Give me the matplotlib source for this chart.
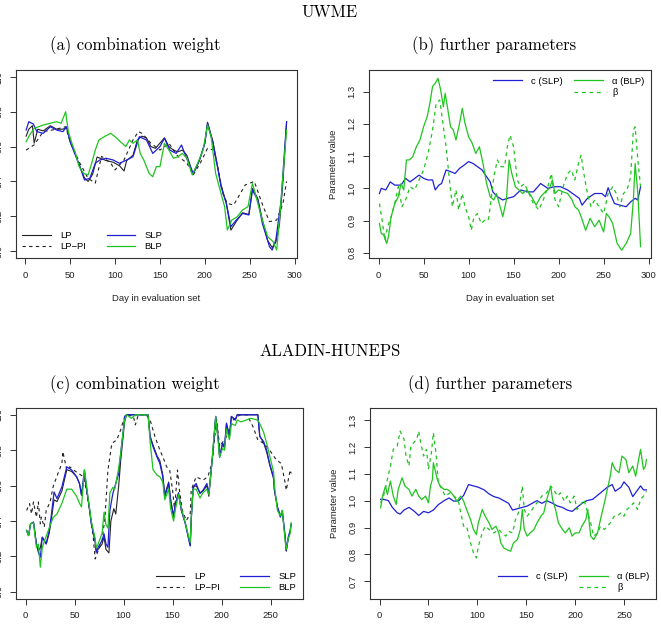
import matplotlib
matplotlib.use("Agg")
import matplotlib.pyplot as plt
from matplotlib.lines import Line2D

# ---------------- UWME, (a) combination weight ----------------
a_lp_day = [1, 4, 8, 10, 14, 20, 28, 35, 42, 46, 50, 55, 61, 66, 70, 75, 80, 85, 90, 98,
            105, 110, 113, 120, 125, 130, 135, 140, 145, 150, 155, 160, 165, 170, 175, 180,
            187, 194, 200, 203, 209, 214, 218, 224, 229, 235, 242, 249, 253, 259, 264, 270,
            275, 279, 283, 287, 291]
a_lp = [0.66, 0.70, 0.72, 0.62, 0.70, 0.69, 0.72, 0.70, 0.70, 0.71, 0.63, 0.57, 0.48, 0.42,
        0.40, 0.44, 0.54, 0.53, 0.52, 0.51, 0.49, 0.46, 0.52, 0.55, 0.64, 0.66, 0.65, 0.60,
        0.59, 0.62, 0.65, 0.60, 0.58, 0.57, 0.58, 0.55, 0.44, 0.52, 0.62, 0.74, 0.63, 0.49,
        0.38, 0.27, 0.12, 0.17, 0.22, 0.21, 0.36, 0.30, 0.18, 0.06, 0.02, 0.05, 0.15, 0.40, 0.74]

a_lppi_day = [1, 10, 20, 30, 45, 50, 60, 70, 78, 85, 95, 100, 110, 120, 126, 130, 140, 150,
              160, 170, 180, 187, 195, 203, 210, 215, 220, 225, 232, 245, 255, 265, 272, 280,
              287, 291]
a_lppi = [0.58, 0.61, 0.686, 0.695, 0.714, 0.628, 0.513, 0.418, 0.39, 0.544, 0.506, 0.466,
          0.523, 0.638, 0.686, 0.676, 0.619, 0.58, 0.619, 0.544, 0.506, 0.437, 0.506, 0.59,
          0.58, 0.465, 0.331, 0.274, 0.264, 0.38, 0.40, 0.255, 0.169, 0.178, 0.274, 0.40]

a_slp_day = [1, 4, 9, 13, 20, 28, 35, 42, 46, 50, 55, 61, 66, 72, 78, 83, 90, 98, 105, 113,
             120, 127, 135, 142, 150, 155, 161, 168, 174, 179, 187, 194, 200, 203, 209, 214,
             218, 224, 229, 235, 242, 249, 253, 259, 264, 272, 275, 279, 285, 288, 291]
a_slp = [0.695, 0.743, 0.73, 0.686, 0.676, 0.714, 0.695, 0.686, 0.714, 0.628, 0.561, 0.485,
         0.408, 0.418, 0.504, 0.523, 0.533, 0.523, 0.504, 0.523, 0.542, 0.657, 0.638, 0.561,
         0.60, 0.648, 0.58, 0.561, 0.609, 0.542, 0.446, 0.523, 0.619, 0.734, 0.619, 0.485,
         0.37, 0.274, 0.14, 0.178, 0.216, 0.207, 0.35, 0.293, 0.159, 0.025, 0.006, 0.063,
         0.293, 0.523, 0.743]

a_blp_day = [1, 5, 10, 15, 20, 28, 35, 40, 45, 48, 52, 56, 60, 65, 70, 74, 78, 82, 88, 95,
             100, 106, 112, 116, 120, 125, 128, 132, 138, 142, 146, 150, 155, 160, 165, 170,
             175, 180, 186, 192, 198, 203, 207, 212, 218, 222, 225, 230, 236, 242, 248, 253,
             258, 264, 270, 276, 280, 284, 288, 291]
a_blp = [0.628, 0.667, 0.705, 0.714, 0.724, 0.734, 0.743, 0.734, 0.80, 0.686, 0.619, 0.561,
         0.485, 0.446, 0.437, 0.504, 0.58, 0.638, 0.657, 0.676, 0.657, 0.628, 0.60, 0.638,
         0.619, 0.638, 0.561, 0.523, 0.446, 0.427, 0.485, 0.485, 0.619, 0.58, 0.533, 0.542,
         0.561, 0.533, 0.437, 0.504, 0.58, 0.724, 0.657, 0.446, 0.331, 0.255, 0.121, 0.178,
         0.197, 0.236, 0.255, 0.389, 0.293, 0.178, 0.082, 0.054, 0.006, 0.236, 0.504, 0.695]

# ---------------- UWME, (b) further parameters ----------------
b_c_day = [1, 3, 8, 13, 18, 25, 30, 35, 45, 50, 55, 60, 63, 67, 70, 75, 80, 85, 90, 95, 100,
           105, 110, 115, 120, 124, 127, 132, 138, 143, 150, 158, 165, 172, 180, 188, 195,
           202, 210, 218, 223, 226, 232, 240, 248, 252, 255, 258, 262, 268, 275, 280, 285,
           288, 291]
b_c = [0.984, 1.0, 0.995, 1.02, 1.01, 1.01, 1.031, 1.02, 1.041, 1.031, 1.026, 1.026, 0.995,
       1.01, 1.015, 1.057, 1.052, 1.046, 1.062, 1.072, 1.083, 1.077, 1.067, 1.057, 1.036,
       1.02, 0.989, 0.974, 0.964, 0.969, 0.974, 0.995, 0.989, 0.989, 1.015, 1.0, 1.005,
       1.005, 0.995, 0.979, 0.969, 0.948, 0.969, 0.984, 0.984, 0.974, 1.002, 0.979, 0.953,
       0.948, 0.943, 0.958, 0.969, 0.964, 1.005]

b_alpha_day = [1, 3, 6, 9, 11, 14, 18, 22, 25, 28, 31, 34, 38, 42, 46, 50, 54, 57, 60, 63,
               66, 69, 72, 74, 77, 80, 83, 86, 90, 93, 96, 100, 104, 108, 112, 116, 120, 124,
               128, 131, 134, 138, 142, 145, 148, 152, 156, 160, 165, 170, 175, 180, 185, 190,
               193, 196, 200, 205, 210, 215, 218, 222, 225, 230, 235, 240, 245, 250, 253, 256,
               260, 265, 270, 275, 280, 283, 285, 288, 291]
b_alpha = [0.891, 0.860, 0.855, 0.829, 0.850, 0.912, 0.953, 0.974, 1.015, 0.995, 1.088, 1.088,
           1.098, 1.129, 1.150, 1.191, 1.222, 1.264, 1.316, 1.326, 1.341, 1.305, 1.253, 1.295,
           1.243, 1.191, 1.181, 1.150, 1.202, 1.248, 1.202, 1.160, 1.140, 1.108, 1.129, 1.077,
           1.015, 0.974, 0.964, 0.984, 0.953, 0.912, 0.964, 1.088, 1.046, 1.005, 0.995, 0.984,
           0.995, 0.974, 0.948, 0.974, 0.989, 1.000, 1.026, 0.984, 0.995, 0.989, 0.984, 0.964,
           0.943, 0.933, 0.912, 0.870, 0.907, 0.881, 0.901, 0.865, 0.922, 0.912, 0.891, 0.829,
           0.808, 0.829, 0.860, 0.964, 1.077, 0.984, 0.819]

b_beta_day = [1, 4, 7, 10, 14, 18, 22, 26, 30, 35, 40, 45, 50, 55, 60, 64, 68, 71, 75, 78,
              82, 86, 89, 93, 96, 100, 103, 106, 110, 114, 118, 122, 125, 128, 132, 136, 140,
              143, 146, 150, 154, 158, 162, 167, 172, 178, 183, 188, 192, 196, 200, 205, 210,
              214, 218, 222, 225, 228, 232, 236, 240, 245, 250, 255, 260, 264, 268, 272, 276,
              280, 283, 285, 288, 291]
b_beta = [0.953, 0.901, 0.839, 0.881, 0.912, 0.953, 1.005, 0.943, 0.964, 1.005, 0.995, 1.026,
          1.057, 1.108, 1.181, 1.264, 1.274, 1.212, 1.129, 1.046, 0.943, 0.995, 0.933, 0.984,
          0.943, 0.912, 0.870, 0.912, 0.922, 0.891, 0.901, 0.901, 0.964, 1.036, 1.088, 1.067,
          1.067, 1.129, 1.165, 1.129, 1.026, 1.005, 1.015, 0.984, 0.953, 0.933, 0.964, 1.005,
          1.046, 0.964, 0.943, 1.005, 1.046, 1.057, 1.026, 1.077, 1.103, 1.046, 0.984, 0.943,
          0.964, 0.943, 0.922, 0.984, 1.005, 0.984, 0.943, 0.984, 0.995, 1.036, 1.181, 1.191,
          1.088, 1.005]

# ---------------- ALADIN-HUNEPS, (c) combination weight ----------------
c_lp_day = [1, 3, 5, 8, 11, 13, 15, 17, 19, 21, 24, 26, 29, 32, 37, 42, 47, 52, 55, 57, 60,
            63, 65, 67, 71, 72, 74, 78, 80, 82, 85, 87, 90, 92, 95, 97, 99, 101, 103, 125,
            127, 130, 134, 137, 140, 142, 146, 148, 151, 153, 156, 159, 163, 166, 168, 169,
            171, 174, 178, 181, 185, 187, 190, 191, 194, 197, 198, 201, 203, 205, 208, 210,
            214, 216, 237, 239, 243, 246, 249, 253, 254, 257, 260, 262, 265, 266, 268, 270, 271]
c_lp = [0.347, 0.318, 0.384, 0.394, 0.271, 0.233, 0.25, 0.309, 0.29, 0.271, 0.33, 0.40, 0.52,
        0.51, 0.57, 0.69, 0.68, 0.65, 0.61, 0.55, 0.66, 0.55, 0.47, 0.39, 0.28, 0.23, 0.24,
        0.27, 0.31, 0.24, 0.22, 0.40, 0.47, 0.44, 0.60, 0.74, 0.85, 0.96, 1.0, 1.0, 0.88,
        0.83, 0.77, 0.74, 0.66, 0.55, 0.62, 0.52, 0.43, 0.50, 0.56, 0.46, 0.39, 0.31, 0.26,
        0.41, 0.59, 0.60, 0.56, 0.57, 0.60, 0.54, 0.72, 0.78, 0.99, 0.84, 0.76, 0.84, 0.81,
        0.95, 0.88, 0.99, 0.97, 1.0, 1.0, 0.88, 0.84, 0.79, 0.72, 0.64, 0.57, 0.48, 0.43,
        0.45, 0.30, 0.23, 0.30, 0.34, 0.38]

c_lppi_day = [1, 4, 6, 8, 11, 13, 15, 16, 19, 21, 25, 28, 33, 37, 38, 42, 45, 49, 54, 59, 62,
              66, 69, 71, 74, 78, 81, 84, 88, 93, 97, 100, 103, 110, 112, 115, 123, 127, 132,
              137, 140, 144, 147, 150, 152, 155, 157, 160, 164, 168, 169, 174, 181, 186, 190,
              195, 198, 205, 212, 219, 226, 232, 237, 243, 249, 256, 261, 265, 266, 270, 271]
c_lppi = [0.46, 0.498, 0.441, 0.508, 0.422, 0.508, 0.384, 0.422, 0.366, 0.46, 0.508, 0.593,
          0.669, 0.725, 0.792, 0.688, 0.706, 0.688, 0.669, 0.65, 0.574, 0.441, 0.309, 0.186,
          0.233, 0.29, 0.422, 0.688, 0.839, 0.858, 0.915, 0.972, 1.0, 0.991, 0.943, 1.0, 1.0,
          0.972, 0.877, 0.801, 0.763, 0.706, 0.688, 0.574, 0.46, 0.688, 0.574, 0.46, 0.403,
          0.441, 0.574, 0.65, 0.631, 0.65, 0.725, 0.972, 0.82, 0.877, 0.972, 1.0, 1.0, 0.934,
          0.858, 0.839, 0.801, 0.744, 0.725, 0.612, 0.574, 0.688, 0.669]

c_slp_day = [1, 3, 5, 8, 11, 13, 15, 17, 19, 21, 24, 26, 29, 32, 37, 42, 47, 52, 55, 57, 60,
             63, 65, 67, 71, 72, 74, 78, 80, 82, 84, 86, 89, 91, 95, 97, 99, 101, 103, 125,
             127, 130, 134, 137, 140, 142, 146, 148, 151, 153, 156, 159, 163, 166, 168, 169,
             171, 174, 178, 181, 185, 187, 190, 191, 194, 197, 198, 201, 203, 205, 208, 210,
             214, 216, 237, 239, 243, 246, 249, 253, 254, 257, 260, 262, 265, 266, 268, 270, 271]
c_slp = [0.347, 0.318, 0.384, 0.394, 0.271, 0.223, 0.195, 0.309, 0.29, 0.271, 0.347, 0.422,
         0.564, 0.527, 0.593, 0.706, 0.688, 0.65, 0.612, 0.545, 0.688, 0.555, 0.479, 0.384,
         0.29, 0.223, 0.252, 0.29, 0.328, 0.271, 0.252, 0.46, 0.555, 0.593, 0.669, 0.782,
         0.877, 0.991, 1.0, 1.0, 0.877, 0.82, 0.763, 0.725, 0.65, 0.536, 0.612, 0.517, 0.422,
         0.498, 0.555, 0.46, 0.384, 0.309, 0.261, 0.403, 0.593, 0.612, 0.555, 0.574, 0.612,
         0.555, 0.725, 0.782, 0.991, 0.839, 0.763, 0.839, 0.82, 0.953, 0.877, 0.991, 0.972,
         1.0, 1.0, 0.877, 0.848, 0.801, 0.725, 0.65, 0.574, 0.479, 0.422, 0.46, 0.309, 0.233,
         0.309, 0.347, 0.384]

c_blp_day = [1, 3, 5, 8, 11, 13, 15, 17, 20, 24, 28, 32, 37, 42, 47, 52, 55, 57, 60, 63, 65,
             67, 71, 72, 74, 78, 80, 82, 84, 86, 89, 91, 95, 97, 99, 101, 103, 108, 112, 125,
             127, 130, 134, 137, 140, 142, 146, 148, 151, 153, 156, 159, 163, 166, 168, 169,
             171, 174, 178, 181, 185, 187, 190, 191, 194, 197, 198, 201, 203, 205, 208, 210,
             214, 216, 220, 225, 230, 237, 239, 243, 246, 249, 253, 254, 257, 260, 262, 265,
             266, 268, 270, 271]
c_blp = [0.347, 0.318, 0.384, 0.39, 0.25, 0.27, 0.14, 0.25, 0.30, 0.36, 0.42, 0.44, 0.50,
         0.58, 0.58, 0.54, 0.50, 0.48, 0.69, 0.56, 0.48, 0.40, 0.30, 0.25, 0.27, 0.33, 0.45,
         0.38, 0.36, 0.56, 0.59, 0.58, 0.70, 0.78, 0.88, 0.97, 1.0, 0.98, 1.0, 1.0, 0.85,
         0.69, 0.66, 0.65, 0.62, 0.52, 0.58, 0.47, 0.40, 0.47, 0.55, 0.47, 0.39, 0.32, 0.28,
         0.42, 0.58, 0.58, 0.53, 0.56, 0.58, 0.55, 0.72, 0.80, 0.99, 0.82, 0.76, 0.81, 0.80,
         0.92, 0.86, 0.95, 0.94, 0.97, 0.96, 0.97, 0.98, 0.97, 0.95, 0.90, 0.84, 0.77, 0.68,
         0.60, 0.46, 0.43, 0.46, 0.28, 0.24, 0.30, 0.33, 0.39]

# ---------------- ALADIN-HUNEPS, (d) further parameters ----------------
d_c_day = [1, 4, 9, 13, 18, 21, 25, 30, 35, 40, 45, 50, 55, 60, 66, 71, 76, 81, 86, 91, 96,
           101, 107, 112, 117, 122, 127, 132, 136, 141, 146, 151, 156, 161, 166, 171, 177,
           182, 187, 192, 197, 202, 207, 212, 218, 223, 228, 233, 238, 241, 247, 250, 255,
           259, 262, 267, 270, 273]
d_c = [1.005, 1.005, 1.0, 0.975, 0.955, 0.95, 0.965, 0.975, 0.962, 0.945, 0.96, 0.955, 0.965,
       0.985, 1.0, 1.01, 0.998, 1.0, 1.02, 1.06, 1.055, 1.05, 1.04, 1.025, 1.015, 1.01, 1.0,
       0.99, 0.965, 0.97, 0.975, 0.98, 0.99, 1.0, 0.99, 1.0, 0.99, 0.98, 0.975, 0.965, 0.96,
       0.975, 0.99, 1.0, 1.005, 1.02, 1.035, 1.05, 1.06, 1.035, 1.05, 1.07, 1.05, 1.015,
       1.03, 1.055, 1.04, 1.04]

d_alpha_day = [1, 3, 6, 8, 11, 14, 17, 19, 23, 26, 30, 33, 37, 40, 43, 47, 50, 52, 54, 55,
               59, 62, 66, 69, 72, 76, 79, 83, 86, 89, 93, 96, 99, 101, 105, 108, 112, 115,
               119, 122, 124, 127, 130, 134, 137, 141, 144, 146, 148, 151, 154, 158, 161, 165,
               168, 171, 175, 177, 180, 183, 187, 190, 194, 197, 200, 204, 207, 211, 213, 216,
               219, 223, 226, 230, 233, 236, 238, 241, 245, 248, 252, 255, 259, 262, 265, 267,
               270, 272, 273]
d_alpha = [0.973, 1.017, 1.054, 1.023, 1.073, 1.017, 0.986, 1.042, 1.085, 1.054, 1.042, 1.017,
           1.042, 1.017, 1.004, 1.017, 0.992, 1.054, 1.079, 1.141, 1.079, 1.054, 1.042, 1.042,
           1.035, 1.017, 0.998, 1.017, 0.998, 0.967, 0.930, 0.893, 0.874, 0.917, 0.967, 0.942,
           0.917, 0.893, 0.905, 0.880, 0.843, 0.824, 0.818, 0.812, 0.843, 0.855, 0.893, 0.967,
           0.893, 0.868, 0.880, 0.893, 0.917, 0.942, 0.955, 1.004, 1.054, 1.004, 0.967, 0.917,
           0.893, 0.880, 0.899, 0.868, 0.880, 0.880, 0.905, 0.930, 0.967, 0.868, 0.855, 0.880,
           0.930, 0.992, 1.042, 1.091, 1.141, 1.116, 1.104, 1.166, 1.153, 1.104, 1.129, 1.091,
           1.153, 1.191, 1.116, 1.129, 1.153]

d_beta_day = [1, 4, 8, 11, 14, 18, 21, 25, 27, 30, 32, 35, 38, 40, 42, 45, 48, 50, 53, 55, 58,
              60, 64, 67, 72, 78, 81, 83, 86, 89, 93, 96, 99, 101, 105, 108, 112, 117, 122,
              125, 129, 132, 136, 139, 142, 146, 148, 151, 156, 161, 166, 171, 175, 178, 182,
              185, 189, 192, 195, 199, 202, 206, 209, 212, 216, 219, 223, 226, 230, 233, 236,
              240, 243, 247, 250, 253, 257, 260, 264, 267, 270, 273]
d_beta = [0.992, 1.017, 1.079, 1.129, 1.191, 1.203, 1.259, 1.228, 1.166, 1.129, 1.203, 1.216,
          1.228, 1.259, 1.216, 1.166, 1.191, 1.116, 1.178, 1.253, 1.166, 1.066, 1.042, 1.017,
          1.029, 1.011, 0.992, 0.955, 0.905, 0.905, 0.843, 0.806, 0.787, 0.830, 0.880, 0.905,
          0.893, 0.880, 0.893, 0.880, 0.868, 0.886, 0.880, 0.930, 0.955, 1.054, 0.967, 0.942,
          0.967, 0.992, 1.017, 1.029, 1.054, 1.042, 1.017, 1.029, 0.998, 1.017, 0.992, 1.017,
          0.967, 0.986, 1.004, 0.967, 0.917, 0.868, 0.880, 0.905, 0.893, 0.905, 0.917, 0.942,
          0.942, 0.955, 0.942, 0.967, 0.980, 0.992, 0.967, 1.004, 1.017, 1.035]

BLUE = '#1f1fd6'
GREEN = '#1fc41f'
SANS = ['Liberation Sans', 'DejaVu Sans']
SERIF = ['cmr10', 'DejaVu Serif']
FS = 6.8

W, H = 661, 625
fig = plt.figure(figsize=(W / 100, H / 100), dpi=100)


def add_ax(l, r, t, b):
    return fig.add_axes([l / W, 1 - b / H, (r - l) / W, (b - t) / H])


def style(ax, xlim, ylim, xticks, yticks, xlabel=None, ylabel=None):
    ax.set_xlim(*xlim)
    ax.set_ylim(*ylim)
    ax.set_xticks(xticks)
    ax.set_yticks(yticks)
    ax.set_xticklabels([str(v) for v in xticks], family=SANS, fontsize=FS, color='#222222')
    ax.set_yticklabels(['%.1f' % v for v in yticks], family=SANS, fontsize=FS, color='#222222',
                       rotation=90, va='center')
    for s in ax.spines.values():
        s.set_color('#333333')
        s.set_linewidth(0.8)
    ax.tick_params(direction='out', length=4, width=0.7, color='#333333', pad=5)
    if xlabel:
        ax.set_xlabel(xlabel, family=SANS, fontsize=FS, color='#222222')
        ax.xaxis.set_label_coords(0.5, -0.19)
    if ylabel:
        ax.set_ylabel(ylabel, family=SANS, fontsize=FS, color='#222222')
        ax.yaxis.set_label_coords(-0.11, 0.5)


def weight_panel(ax, lp, lppi, slp, blp, loc, anchor):
    h1, = ax.plot(lp[0], lp[1], color='#222222', lw=0.8, label='LP')
    h2, = ax.plot(lppi[0], lppi[1], color='#222222', lw=0.8, ls=(0, (3, 3)), label='LP\u2212PI')
    h3, = ax.plot(slp[0], slp[1], color=BLUE, lw=0.9, label='SLP')
    h4, = ax.plot(blp[0], blp[1], color=GREEN, lw=0.9, label='BLP')
    ax.legend(handles=[h1, h2, h3, h4], ncol=2, loc=loc, bbox_to_anchor=anchor, frameon=False,
              prop={'family': SANS, 'size': FS}, handlelength=3.0, columnspacing=2.2,
              labelspacing=0.25, handletextpad=1.0, borderaxespad=0.3)


def param_panel(ax, c, alpha, beta, loc, anchor):
    h1, = ax.plot(c[0], c[1], color=BLUE, lw=0.9, label='c (SLP)')
    h2, = ax.plot(alpha[0], alpha[1], color=GREEN, lw=0.9, label='\u03b1 (BLP)')
    h3, = ax.plot(beta[0], beta[1], color=GREEN, lw=0.9, ls=(0, (3, 3)), label='\u03b2')
    blank = Line2D([], [], color='none', label=' ')
    ax.legend(handles=[h1, blank, h2, h3], ncol=2, loc=loc, bbox_to_anchor=anchor, frameon=False,
              prop={'family': SANS, 'size': FS}, handlelength=3.0, columnspacing=1.2,
              labelspacing=0.25, handletextpad=1.0, borderaxespad=0.3)


# titles
fig.text(330 / W, 1 - 12 / H, 'UWME', family=SERIF, fontsize=12, ha='center', va='center')
fig.text(135 / W, 1 - 46 / H, '(a) combination weight', family=SERIF, fontsize=12,
         ha='center', va='center')
fig.text(494 / W, 1 - 46 / H, '(b) further parameters', family=SERIF, fontsize=12,
         ha='center', va='center')
fig.text(330 / W, 1 - 351 / H, 'ALADIN-HUNEPS', family=SERIF, fontsize=12, ha='center', va='center')
fig.text(135 / W, 1 - 385 / H, '(c) combination weight', family=SERIF, fontsize=12,
         ha='center', va='center')
fig.text(490 / W, 1 - 385 / H, '(d) further parameters', family=SERIF, fontsize=12,
         ha='center', va='center')

wt_ticks = [0.0, 0.2, 0.4, 0.6, 0.8, 1.0]

ax_a = add_ax(15.7, 297, 70, 258)
weight_panel(ax_a, (a_lp_day, a_lp), (a_lppi_day, a_lppi), (a_slp_day, a_slp),
             (a_blp_day, a_blp), 'lower left', (0.0, 0.0))
style(ax_a, (-10.6, 302.6), (-0.04, 1.04), [0, 50, 100, 150, 200, 250, 300], wt_ticks,
      xlabel='Day in evaluation set')

ax_b = add_ax(369, 651, 70, 258)
param_panel(ax_b, (b_c_day, b_c), (b_alpha_day, b_alpha), (b_beta_day, b_beta),
            'upper right', (1.0, 1.0))
style(ax_b, (-10.6, 302.6), (0.784, 1.367), [0, 50, 100, 150, 200, 250, 300],
      [0.8, 0.9, 1.0, 1.1, 1.2, 1.3], xlabel='Day in evaluation set', ylabel='Parameter value')

ax_c = add_ax(16, 302.7, 407.7, 599)
weight_panel(ax_c, (c_lp_day, c_lp), (c_lppi_day, c_lppi), (c_slp_day, c_slp),
             (c_blp_day, c_blp), 'lower right', (1.0, 0.0))
style(ax_c, (-9.84, 282.8), (-0.04, 1.04), [0, 50, 100, 150, 200, 250], wt_ticks)

ax_d = add_ax(370, 656, 407.7, 599)
param_panel(ax_d, (d_c_day, d_c), (d_alpha_day, d_alpha), (d_beta_day, d_beta),
            'lower right', (1.0, 0.0))
style(ax_d, (-9.84, 282.8), (0.634, 1.346), [0, 50, 100, 150, 200, 250],
      [0.7, 0.8, 0.9, 1.0, 1.1, 1.2, 1.3], ylabel='Parameter value')

fig.savefig('out.png', dpi=100)
